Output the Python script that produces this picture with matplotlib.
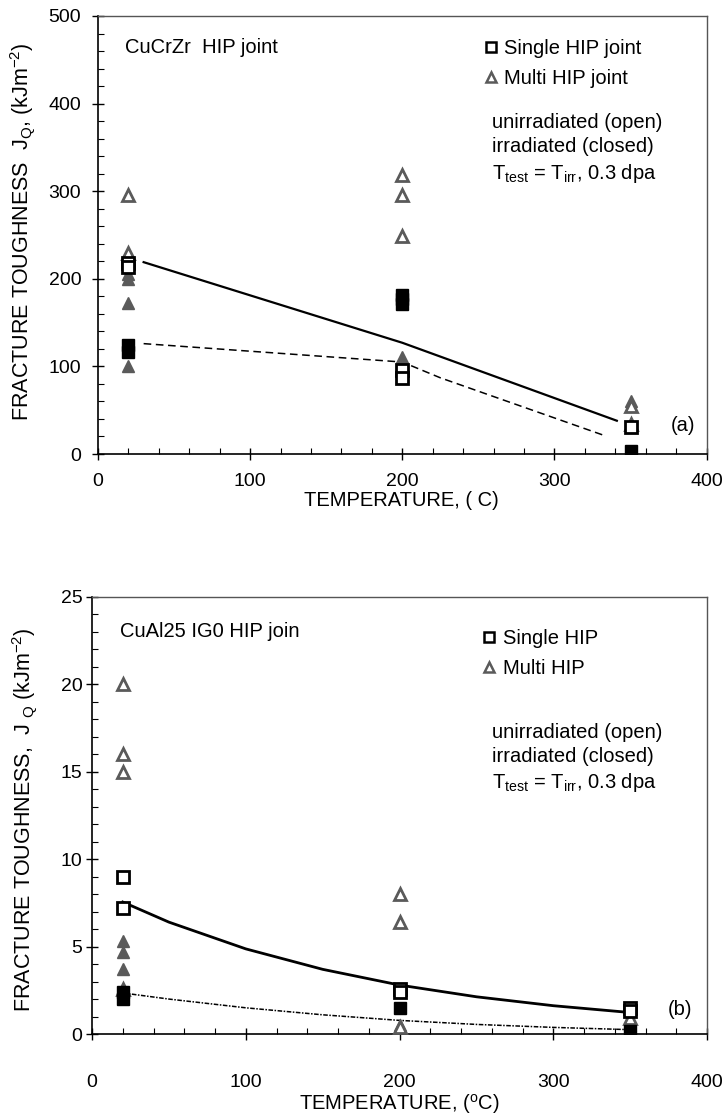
import numpy as np
import matplotlib
matplotlib.use("Agg")
import matplotlib.pyplot as plt
from matplotlib.lines import Line2D
from matplotlib.ticker import MultipleLocator

plt.rcParams['font.family'] = ['Liberation Sans', 'DejaVu Sans']
plt.rcParams['mathtext.fontset'] = 'custom'
plt.rcParams['mathtext.rm'] = 'Liberation Sans'
plt.rcParams['mathtext.it'] = 'Liberation Sans'

# ---- panel (a) CuCrZr data ----
a_single_open_x = [20, 20, 200, 200, 350]
a_single_open_y = [218, 213, 96, 87, 31]
a_single_closed_x = [20, 20, 200, 200, 200, 350]
a_single_closed_y = [125, 117, 182, 177, 171, 4]
a_multi_open_x = [20, 20, 200, 200, 200, 350, 350]
a_multi_open_y = [296, 230, 318, 296, 249, 55, 34]
a_multi_closed_x = [20, 20, 20, 20, 200, 350]
a_multi_closed_y = [205, 200, 172, 101, 111, 60]
a_open_fit_x = [30, 200, 341]
a_open_fit_y = [219, 127, 38]
a_closed_fit_x = [30, 200, 225, 333]
a_closed_fit_y = [126, 105, 87, 21]

# ---- panel (b) CuAl25 data ----
b_single_open_x = [20, 20, 200, 200, 350, 350]
b_single_open_y = [9.0, 7.2, 2.6, 2.4, 1.5, 1.3]
b_single_closed_x = [20, 20, 200, 350]
b_single_closed_y = [2.4, 2.0, 1.5, 0.2]
b_multi_open_x = [20, 20, 20, 20, 200, 200, 200, 350]
b_multi_open_y = [20, 16, 15, 2.6, 8.0, 6.4, 0.4, 0.9]
b_multi_closed_x = [20, 20, 20, 200, 350]
b_multi_closed_y = [5.3, 4.7, 3.7, 0.5, 0.5]
b_open_fit_x = [20, 50, 100, 150, 200, 250, 300, 350]
b_open_fit_y = [7.55, 6.4, 4.87, 3.7, 2.8, 2.13, 1.62, 1.23]
b_closed_fit_x = [20, 50, 100, 150, 200, 250, 300, 350]
b_closed_fit_y = [2.35, 2.0, 1.5, 1.1, 0.78, 0.55, 0.38, 0.25]

GREY = '#5a5a5a'
FS = 14.5   # annotation text
TFS = 14    # tick labels
LFS = 14.5  # x axis labels
YFS = 15.5  # y axis labels

fig = plt.figure(figsize=(7.28, 11.18), dpi=100)
ax1 = fig.add_axes([0.1346, 0.5939, 0.836, 0.3918])
ax2 = fig.add_axes([0.1264, 0.0751, 0.845, 0.391])


def scatter_sets(ax, so, sc, mo, mc):
    ax.plot(mc[0], mc[1], '^', ms=9, mfc=GREY, mec=GREY, ls='none', zorder=3)
    ax.plot(mo[0], mo[1], '^', ms=9, mfc='white', mec=GREY, mew=2, ls='none', zorder=3)
    ax.plot(sc[0], sc[1], 's', ms=8, mfc='black', mec='black', ls='none', zorder=4)
    ax.plot(so[0], so[1], 's', ms=8, mfc='white', mec='black', mew=2, ls='none', zorder=4)


def style_axes(ax, ymax, ymaj, ymin, xpad, ypad):
    ax.set_xlim(0, 400)
    ax.set_ylim(0, ymax)
    ax.xaxis.set_major_locator(MultipleLocator(100))
    ax.xaxis.set_minor_locator(MultipleLocator(20))
    ax.yaxis.set_major_locator(MultipleLocator(ymaj))
    ax.yaxis.set_minor_locator(MultipleLocator(ymin))
    ax.tick_params(which='major', direction='inout', length=8, width=1, labelsize=TFS)
    ax.tick_params(axis='x', which='major', pad=xpad)
    ax.tick_params(axis='y', which='major', pad=ypad)
    ax.tick_params(which='minor', direction='in', length=4, width=0.8)
    for s in ['top', 'right']:
        ax.spines[s].set_color('#555555')
        ax.spines[s].set_linewidth(1)
    for s in ['left', 'bottom']:
        ax.spines[s].set_linewidth(1.2)


# panel (a)
scatter_sets(ax1, (a_single_open_x, a_single_open_y), (a_single_closed_x, a_single_closed_y),
             (a_multi_open_x, a_multi_open_y), (a_multi_closed_x, a_multi_closed_y))
ax1.plot(a_open_fit_x, a_open_fit_y, '-', color='black', lw=1.6, zorder=2)
ax1.plot(a_closed_fit_x, a_closed_fit_y, '--', color='black', lw=1.1, dashes=(5, 3), zorder=2)
style_axes(ax1, 500, 100, 20, xpad=10, ypad=8)
ax1.set_xlabel('TEMPERATURE, ( C)', fontsize=LFS)
ax1.set_ylabel('FRACTURE TOUGHNESS  J$_\\mathrm{Q}$, (kJm$^{-2}$)', fontsize=YFS)
ax1.xaxis.set_label_coords(0.498, -0.085)
ax1.yaxis.set_label_coords(-0.1, 0.507)
ax1.text(0.044, 0.929, 'CuCrZr  HIP joint', transform=ax1.transAxes, fontsize=FS, va='center')
ax1.text(0.648, 0.73, 'unirradiated (open)\nirradiated (closed)', transform=ax1.transAxes,
         fontsize=FS, va='center', linespacing=1.3)
ax1.text(0.648, 0.64, 'T$_\\mathrm{test}$ = T$_\\mathrm{irr}$, 0.3 dpa', transform=ax1.transAxes,
         fontsize=FS, va='center')
ax1.text(0.962, 0.066, '(a)', transform=ax1.transAxes, fontsize=FS, va='center', ha='center')

# panel (b)
scatter_sets(ax2, (b_single_open_x, b_single_open_y), (b_single_closed_x, b_single_closed_y),
             (b_multi_open_x, b_multi_open_y), (b_multi_closed_x, b_multi_closed_y))
ax2.plot(b_open_fit_x, b_open_fit_y, '-', color='black', lw=2, zorder=2)
ax2.plot(b_closed_fit_x, b_closed_fit_y, color='black', lw=1.1, dashes=(3, 1, 1, 1), zorder=2)
style_axes(ax2, 25, 5, 1, xpad=25, ypad=3)
ax2.set_xlabel('TEMPERATURE, ($^\\mathrm{o}$C)', fontsize=LFS)
ax2.set_ylabel('FRACTURE TOUGHNESS,  J $_\\mathrm{Q}$ (kJm$^{-2}$)', fontsize=YFS)
ax2.xaxis.set_label_coords(0.5, -0.133)
ax2.yaxis.set_label_coords(-0.087, 0.49)
ax2.text(0.046, 0.92, 'CuAl25 IG0 HIP join', transform=ax2.transAxes, fontsize=FS, va='center')
ax2.text(0.65, 0.662, 'unirradiated (open)\nirradiated (closed)', transform=ax2.transAxes,
         fontsize=FS, va='center', linespacing=1.3)
ax2.text(0.65, 0.575, 'T$_\\mathrm{test}$ = T$_\\mathrm{irr}$, 0.3 dpa', transform=ax2.transAxes,
         fontsize=FS, va='center')
ax2.text(0.956, 0.055, '(b)', transform=ax2.transAxes, fontsize=FS, va='center', ha='center')

# legends
for ax, labels, anchor in [(ax1, ['Single HIP joint', 'Multi HIP joint'], (0.633, 0.947)),
                           (ax2, ['Single HIP', 'Multi HIP'], (0.633, 0.926))]:
    handles = [Line2D([], [], marker='s', ls='none', ms=6.5, mfc='white', mec='black', mew=1.8),
               Line2D([], [], marker='^', ls='none', ms=7, mfc='white', mec=GREY, mew=1.8)]
    ax.legend(handles, labels, loc='upper left', bbox_to_anchor=anchor, frameon=False,
              fontsize=FS, handlelength=0.8, handletextpad=0.25, labelspacing=0.55,
              borderaxespad=0, borderpad=0)

fig.savefig('out.png', dpi=100)
